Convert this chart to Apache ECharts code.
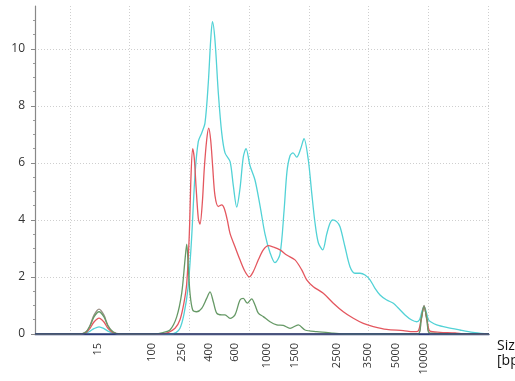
<!DOCTYPE html>
<html>
<head>
<meta charset="utf-8">
<script src="https://cdn.jsdelivr.net/npm/echarts@6/dist/echarts.min.js"></script>
<style>
html,body{margin:0;padding:0;background:#fff;}
#c{width:515px;height:381px;}
</style>
</head>
<body>
<div id="c"></div>
<script>
// Migration time (s) of size-standard labels, and the labels themselves
const sizeTimes = [24.75, 33.73, 38.76, 43.28, 47.63, 52.99, 57.68, 64.72, 69.82, 74.60, 79.29];
const sizeLabels = ['15', '100', '250', '400', '600', '1000', '1500', '2500', '3500', '5000', '10000'];
const gridTimes = [20, 30, 40, 50, 60, 70, 80, 90];
const yTicks = [0, 2, 4, 6, 8, 10];

// Sample traces: [time (s), fluorescence]
const cyanTrace = [
  [14.14,0],[21.67,0],[22.68,0.03],[23.35,0.1],[24.02,0.19],[24.86,0.25],[25.69,0.19],[26.36,0.1],[27.20,0.03],[28.37,0],
  [36.75,0],[37.75,0.05],[38.42,0.2],[39.09,0.7],[39.76,1.6],[40.35,3.3],[40.94,5.6],[41.49,6.75],[42.06,7.05],[42.61,7.4],
  [43.16,8.8],[43.56,10.3],[43.86,10.95],[44.28,10.3],[44.84,8.45],[45.41,7.05],[45.96,6.35],[46.80,6.05],[47.35,5.2],[47.92,4.45],
  [48.47,5.1],[49.02,6.2],[49.48,6.5],[50.15,5.9],[50.98,5.4],[51.82,4.5],[52.66,3.5],[53.50,2.85],[54.33,2.5],[55.17,2.8],
  [55.84,4.3],[56.34,5.7],[56.85,6.25],[57.35,6.35],[57.97,6.2],[58.64,6.5],[59.19,6.85],[59.91,6.1],[60.48,4.95],[61.03,3.9],
  [61.59,3.2],[62.32,2.95],[62.99,3.5],[63.54,3.88],[63.99,4.0],[64.66,3.94],[65.22,3.76],[66.05,3.06],[66.89,2.36],[67.73,2.13],
  [68.57,2.13],[69.41,2.07],[70.24,1.9],[71.08,1.6],[71.92,1.37],[73.04,1.19],[74.15,1.08],[74.98,0.91],[76.11,0.67],[77.23,0.49],
  [78.07,0.43],[78.53,0.5],[78.95,0.8],[79.29,0.97],[79.62,0.8],[80.04,0.5],[80.46,0.42],[81.41,0.32],[83.09,0.23],[85.32,0.14],
  [87.49,0.06],[89.50,0.01],[90.17,0]
];
const redTrace = [
  [14.14,0],[21.67,0],[22.68,0.05],[23.35,0.2],[24.02,0.42],[24.86,0.56],[25.69,0.42],[26.36,0.2],[27.20,0.05],[28.37,0],
  [35.07,0],[36.41,0.05],[37.59,0.2],[38.42,0.5],[39.09,1.1],[39.55,1.78],[39.98,3.5],[40.26,5.5],[40.55,6.5],[40.82,6.15],
  [41.10,5.2],[41.49,4.05],[41.77,3.85],[42.16,4.6],[42.49,5.8],[42.89,6.8],[43.23,7.22],[43.56,6.8],[43.90,5.85],[44.28,4.85],
  [44.84,4.47],[45.41,4.53],[45.84,4.4],[46.34,4.0],[46.80,3.53],[47.63,3.06],[48.47,2.6],[49.31,2.19],[50.03,2.0],[50.70,2.19],
  [51.54,2.6],[52.37,2.95],[53.21,3.1],[54.05,3.05],[55.17,2.95],[56.29,2.77],[57.68,2.6],[58.81,2.25],[59.64,1.9],[60.75,1.66],
  [62.42,1.43],[64.10,1.08],[65.77,0.78],[67.45,0.55],[69.12,0.37],[70.80,0.26],[73.04,0.16],[75.82,0.12],[77.45,0.08],[78.28,0.1],
  [78.79,0.5],[79.29,0.97],[79.79,0.5],[80.29,0.1],[81.97,0.06],[84.48,0.04],[86.15,0],[90.17,0]
];
const greenTrace = [
  [14.14,0],[21.67,0],[22.68,0.07],[23.35,0.28],[24.02,0.6],[24.86,0.78],[25.69,0.6],[26.36,0.28],[27.20,0.07],[28.37,0],
  [34.24,0],[35.58,0.05],[36.75,0.14],[37.87,0.6],[38.71,1.43],[39.26,2.6],[39.55,3.15],[39.81,2.36],[40.10,1.43],[40.55,0.84],
  [41.22,0.78],[42.06,0.9],[42.89,1.25],[43.45,1.48],[44.00,1.13],[44.57,0.73],[45.41,0.67],[45.96,0.67],[46.80,0.55],[47.63,0.67],
  [48.47,1.19],[49.02,1.25],[49.69,1.08],[50.43,1.23],[50.98,1.02],[51.54,0.73],[52.37,0.61],[53.50,0.43],[54.62,0.32],[55.72,0.3],
  [56.85,0.2],[58.24,0.32],[59.36,0.14],[61.32,0.08],[64.05,0.03],[66.05,0],[78.28,0],[78.79,0.5],[79.29,0.97],[79.79,0.5],
  [80.29,0.03],[90.17,0]
];
const greyTrace = [
  [14.14,0],[21.67,0],[22.68,0.08],[23.35,0.3],[24.02,0.66],[24.86,0.87],[25.69,0.66],[26.36,0.3],[27.20,0.08],[28.37,0],
  [78.28,0],[78.79,0.45],[79.29,1.0],[79.79,0.45],[80.29,0],[90.17,0]
];
const baseTrace = [[14.14,0],[90.17,0]];

const chart = echarts.init(document.getElementById('c'), null, {renderer:'canvas'});
const lineS = (name, data, color, z) => ({
  name, type:'line', data, symbol:'none', smooth:0.3, z:z||2,
  lineStyle:{color, width:1.3}
});
chart.setOption({
  animation:false,
  backgroundColor:'#fff',
  grid:{left:35, right:26, top:6, bottom:47, containLabel:false, outerBoundsMode:'none'},
  xAxis:{
    type:'value', min:14.14, max:90.17,
    name:'Size\n[bp]', nameLocation:'end', nameGap:8,
    nameTextStyle:{fontSize:14, color:'#111', align:'left', verticalAlign:'top', lineHeight:15, padding:[5,0,0,0], fontFamily:'Open Sans'},
    axisLine:{show:true, lineStyle:{color:'#2f3f78', width:1.3}},
    axisTick:{show:false, customValues:gridTimes},
    splitLine:{show:true, lineStyle:{color:'#cfcfcf', type:[1,2], width:1}},
    axisLabel:{
      customValues:sizeTimes, rotate:90, margin:9, fontSize:11, color:'#333', fontFamily:'Open Sans',
      formatter:(v)=>{let b=0;for(let i=1;i<sizeTimes.length;i++){if(Math.abs(sizeTimes[i]-v)<Math.abs(sizeTimes[b]-v))b=i;}return sizeLabels[b];}
    }
  },
  yAxis:{
    type:'value', min:0, max:11.5, interval:2,
    axisLine:{show:true, lineStyle:{color:'#888', width:1.2}},
    axisTick:{show:true, length:4, customValues:yTicks, lineStyle:{color:'#888'}},
    minorTick:{show:true, splitNumber:4, length:2, lineStyle:{color:'#999'}},
    splitLine:{show:true, lineStyle:{color:'#cfcfcf', type:[1,2], width:1}},
    axisLabel:{customValues:yTicks, margin:10, fontSize:12, color:'#333', fontFamily:'Open Sans'}
  },
  series:[
    lineS('grey', greyTrace, '#9a8f86', 2),
    lineS('cyan', cyanTrace, '#52d2d6', 3),
    lineS('red', redTrace, '#e4575f', 4),
    lineS('green', greenTrace, '#669966', 5),
    {name:'base', type:'line', data:baseTrace, symbol:'none', z:6, lineStyle:{color:'#2f3f78', width:1.3}}
  ]
});
</script>
</body>
</html>
